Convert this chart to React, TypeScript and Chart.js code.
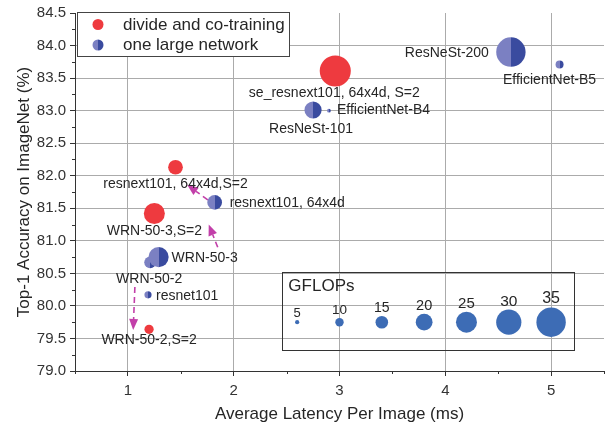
import React, { useEffect, useRef } from 'react';
import { Chart, registerables } from 'chart.js';

Chart.register(...registerables);

// ---------- data ----------
const redNames = ['se_resnext101, 64x4d, S=2', 'resnext101, 64x4d,S=2', 'WRN-50-3,S=2', 'WRN-50-2,S=2'];
const redLatency = [2.96, 1.45, 1.25, 1.2];
const redAccuracy = [83.61, 82.13, 81.42, 79.64];
const redGflops = [37, 17.5, 25, 11];

const blueNames = ['ResNeSt-200', 'EfficientNet-B5', 'ResNeSt-101', 'EfficientNet-B4', 'resnext101, 64x4d', 'WRN-50-2', 'WRN-50-3', 'resnet101'];
const blueLatency = [4.62, 5.08, 2.75, 2.9, 1.82, 1.21, 1.29, 1.19];
const blueAccuracy = [83.9, 83.71, 83.01, 83.0, 81.59, 80.67, 80.75, 80.17];
const blueGflops = [35, 9.5, 20.5, 4.5, 17.5, 14, 24, 8.5];

const keyGflops = [5, 10, 15, 20, 25, 30, 35];
const keyLatency = [2.6, 3.0, 3.4, 3.8, 4.2, 4.6, 5.0];
const keyAccuracy = 79.75;

// arrows (from -> to, in data units)
const arrowFromLatency = [1.755, 1.849, 1.066];
const arrowFromAccuracy = [81.63, 80.9, 80.29];
const arrowToLatency = [1.56, 1.764, 1.05];
const arrowToAccuracy = [81.86, 81.25, 79.63];

const legendLabels = ['divide and co-training', 'one large network'];
const xTitle = 'Average Latency Per Image (ms)';
const yTitle = 'Top-1 Accuracy on ImageNet (%)';

// ---------- styling ----------
const FONT = '"Liberation Sans", Arial, sans-serif';
const RED = '#ee3a3f';
const BLUE_DARK = '#3a4b9f';
const BLUE_LIGHT = '#7b80c2';
const KEY_BLUE = '#3d6cb5';
const ARROW = '#c23fa9';
const TEXT = '#262626';
const GRID = '#ababab';
const RADIUS_PER_GFLOP = 0.42;

// label placement relative to each point: [dx, dy, align]
const redLabelPos: [number, number, CanvasTextAlign][] = [
  [-1, 22, 'center'],
  [0, 17, 'center'],
  [0, 18, 'center'],
  [0, 11, 'center'],
];
const blueLabelPos: [number, number, CanvasTextAlign][] = [
  [-22, 1, 'right'],
  [-10, 16, 'center'],
  [-2, 19, 'center'],
  [8, 0, 'left'],
  [15, 1, 'left'],
  [-1, 17, 'center'],
  [13, 1, 'left'],
  [8, 1, 'left'],
];

const halfFill = (ctx: CanvasRenderingContext2D, px: number, r: number) => {
  if (!isFinite(px) || !isFinite(r) || r <= 0) return BLUE_DARK;
  const g = ctx.createLinearGradient(px - r, 0, px + r, 0);
  g.addColorStop(0, BLUE_LIGHT);
  g.addColorStop(0.5, BLUE_LIGHT);
  g.addColorStop(0.5, BLUE_DARK);
  g.addColorStop(1, BLUE_DARK);
  return g;
};

const isHalf = (v: number) => Math.abs(v * 2 - Math.round(v * 2)) < 1e-6;
const isInt = (v: number) => Math.abs(v - Math.round(v)) < 1e-6;

const annotPlugin = {
  id: 'annot',
  afterDatasetsDraw(chart: any) {
    const { ctx, chartArea, scales } = chart;
    const xs = scales.x;
    const ys = scales.y;
    ctx.save();

    // arrows
    ctx.strokeStyle = ARROW;
    ctx.fillStyle = ARROW;
    ctx.lineWidth = 1.6;
    for (let i = 0; i < arrowFromLatency.length; i++) {
      const x0 = xs.getPixelForValue(arrowFromLatency[i]);
      const y0 = ys.getPixelForValue(arrowFromAccuracy[i]);
      const x1 = xs.getPixelForValue(arrowToLatency[i]);
      const y1 = ys.getPixelForValue(arrowToAccuracy[i]);
      const ang = Math.atan2(y1 - y0, x1 - x0);
      const headLen = 11;
      const hw = 4.5;
      const bx = x1 - headLen * Math.cos(ang);
      const by = y1 - headLen * Math.sin(ang);
      ctx.setLineDash([6, 4]);
      ctx.beginPath();
      ctx.moveTo(x0, y0);
      ctx.lineTo(bx, by);
      ctx.stroke();
      ctx.setLineDash([]);
      ctx.beginPath();
      ctx.moveTo(x1, y1);
      ctx.lineTo(bx + hw * Math.sin(ang), by - hw * Math.cos(ang));
      ctx.lineTo(bx - hw * Math.sin(ang), by + hw * Math.cos(ang));
      ctx.closePath();
      ctx.fill();
    }

    // point labels
    ctx.fillStyle = TEXT;
    ctx.font = `14px ${FONT}`;
    ctx.textBaseline = 'middle';
    const drawLabels = (dsIndex: number, names: string[], pos: [number, number, CanvasTextAlign][]) => {
      const meta = chart.getDatasetMeta(dsIndex);
      meta.data.forEach((el: any, i: number) => {
        const [dx, dy, al] = pos[i];
        ctx.textAlign = al;
        ctx.fillText(names[i], el.x + dx, el.y + dy);
      });
    };
    drawLabels(0, redNames, redLabelPos);
    drawLabels(1, blueNames, blueLabelPos);

    // GFLOPs key box
    const bl = xs.getPixelForValue(2.46);
    const br = xs.getPixelForValue(5.22);
    const bt = ys.getPixelForValue(80.52);
    const bb = ys.getPixelForValue(79.32);
    ctx.strokeStyle = '#333';
    ctx.lineWidth = 1;
    ctx.strokeRect(Math.round(bl) + 0.5, Math.round(bt) + 0.5, Math.round(br - bl), Math.round(bb - bt));
    ctx.fillStyle = TEXT;
    ctx.font = `17px ${FONT}`;
    ctx.textAlign = 'left';
    ctx.fillText('GFLOPs', bl + 6, bt + 14);
    const keyMeta = chart.getDatasetMeta(2);
    keyMeta.data.forEach((el: any, i: number) => {
      const r = keyGflops[i] * RADIUS_PER_GFLOP;
      ctx.font = `${13 + i * 0.5}px ${FONT}`;
      ctx.textAlign = 'center';
      ctx.textBaseline = 'bottom';
      ctx.fillText(String(keyGflops[i]), el.x, el.y - r - 0.5);
    });

    // series legend (top-left)
    const lx = chartArea.left + 2;
    const ly = chartArea.top - 1;
    const lw = 212;
    const lh = 44;
    ctx.fillStyle = '#fff';
    ctx.fillRect(lx, ly, lw, lh);
    ctx.strokeStyle = '#444';
    ctx.strokeRect(Math.round(lx) + 0.5, Math.round(ly) + 0.5, lw, lh);
    const colors = [RED, BLUE_DARK];
    legendLabels.forEach((t, i) => {
      const cy = ly + 12.5 + i * 20.5;
      const cx = lx + 21;
      ctx.beginPath();
      ctx.arc(cx, cy, 5.5, 0, Math.PI * 2);
      ctx.fillStyle = i === 0 ? colors[0] : halfFill(ctx, cx, 5.5);
      ctx.fill();
      ctx.fillStyle = TEXT;
      ctx.font = `17px ${FONT}`;
      ctx.textAlign = 'left';
      ctx.textBaseline = 'middle';
      ctx.fillText(t, lx + 46, cy + 0.5);
    });

    // minor ticks (shorter)
    ctx.strokeStyle = '#333';
    ctx.lineWidth = 1;
    ys.ticks.forEach((t: any) => {
      if (!isHalf(t.value)) {
        const py = Math.round(ys.getPixelForValue(t.value)) + 0.5;
        ctx.beginPath();
        ctx.moveTo(chartArea.left - 3, py);
        ctx.lineTo(chartArea.left, py);
        ctx.stroke();
      }
    });
    xs.ticks.forEach((t: any) => {
      if (!isInt(t.value)) {
        const px = Math.round(xs.getPixelForValue(t.value)) + 0.5;
        ctx.beginPath();
        ctx.moveTo(px, chartArea.bottom);
        ctx.lineTo(px, chartArea.bottom + 3);
        ctx.stroke();
      }
    });

    ctx.restore();
  },
};

export default function App() {
  const ref = useRef<HTMLCanvasElement>(null);

  useEffect(() => {
    if (!ref.current) return;
    const mk = (lat: number[], acc: number[], gf: number[]) =>
      lat.map((x, i) => ({ x, y: acc[i], r: gf[i] * RADIUS_PER_GFLOP }));

    const chart = new Chart(ref.current, {
      type: 'bubble',
      data: {
        datasets: [
          { label: legendLabels[0], data: mk(redLatency, redAccuracy, redGflops), backgroundColor: RED, borderWidth: 0 },
          {
            label: legendLabels[1],
            data: mk(blueLatency, blueAccuracy, blueGflops),
            backgroundColor: (c: any) => {
              const ch = c.chart;
              const raw = c.raw;
              if (!raw || !ch.scales || !ch.scales.x) return BLUE_DARK;
              const px = ch.scales.x.getPixelForValue(raw.x);
              return halfFill(ch.ctx, px, raw.r);
            },
            borderWidth: 0,
          },
          {
            label: 'GFLOPs',
            data: keyLatency.map((x, i) => ({ x, y: keyAccuracy, r: keyGflops[i] * RADIUS_PER_GFLOP })),
            backgroundColor: KEY_BLUE,
            borderWidth: 0,
          },
        ],
      },
      options: {
        animation: false,
        responsive: false,
        devicePixelRatio: 1,
        events: [],
        layout: { autoPadding: false, padding: { top: 12, right: 12, left: 0, bottom: 0 } },
        plugins: { legend: { display: false }, tooltip: { enabled: false } },
        scales: {
          x: {
            type: 'linear',
            min: 0.5,
            max: 5.5,
            afterFit: (s: any) => {
              s.height = 57;
              s.paddingLeft = 0;
              s.paddingRight = 0;
            },
            ticks: {
              stepSize: 0.5,
              autoSkip: false,
              maxRotation: 0,
              padding: 6,
              color: '#333',
              font: { family: FONT, size: 15 },
              callback: (v: any) => (isInt(Number(v)) && Number(v) > 0.6 && Number(v) < 5.4 ? String(Math.round(Number(v))) : ''),
            },
            grid: {
              color: (c: any) => {
                const v = c.tick ? c.tick.value : 0;
                return isInt(v) && v > 0.6 && v < 5.4 ? GRID : 'rgba(0,0,0,0)';
              },
              borderDash: [2, 3],
              tickBorderDash: [],
              tickLength: 5,
              tickColor: (c: any) => {
                const v = c.tick ? c.tick.value : 0;
                return isInt(v) ? '#333' : 'rgba(0,0,0,0)';
              },
              lineWidth: 1,
            },
            border: { color: '#333', width: 1 },
            title: { display: true, text: xTitle, color: TEXT, font: { family: FONT, size: 17 }, padding: { top: 0, bottom: 3 } },
          },
          y: {
            type: 'linear',
            min: 79,
            max: 84.5,
            afterFit: (s: any) => {
              s.width = 75;
            },
            ticks: {
              stepSize: 0.25,
              autoSkip: false,
              padding: 4,
              color: '#333',
              font: { family: FONT, size: 15 },
              callback: (v: any) => (isHalf(Number(v)) ? Number(v).toFixed(1) : ''),
            },
            grid: {
              color: (c: any) => {
                const v = c.tick ? c.tick.value : 0;
                return isHalf(v) && v > 79.1 && v < 84.4 ? GRID : 'rgba(0,0,0,0)';
              },
              borderDash: [2, 3],
              tickBorderDash: [],
              tickLength: 5,
              tickColor: (c: any) => {
                const v = c.tick ? c.tick.value : 0;
                return isHalf(v) ? '#333' : 'rgba(0,0,0,0)';
              },
              lineWidth: 1,
            },
            border: { color: '#333', width: 1 },
            title: { display: true, text: yTitle, color: TEXT, font: { family: FONT, size: 17 }, padding: { top: 14, bottom: 0 } },
          },
        },
      },
      plugins: [annotPlugin],
    } as any);

    return () => chart.destroy();
  }, []);

  return (
    <div style={{ position: 'absolute', left: 0, top: 0, width: 616, height: 428, background: '#fff' }}>
      <canvas ref={ref} width={616} height={428} style={{ display: 'block', width: 616, height: 428 }} />
    </div>
  );
}
